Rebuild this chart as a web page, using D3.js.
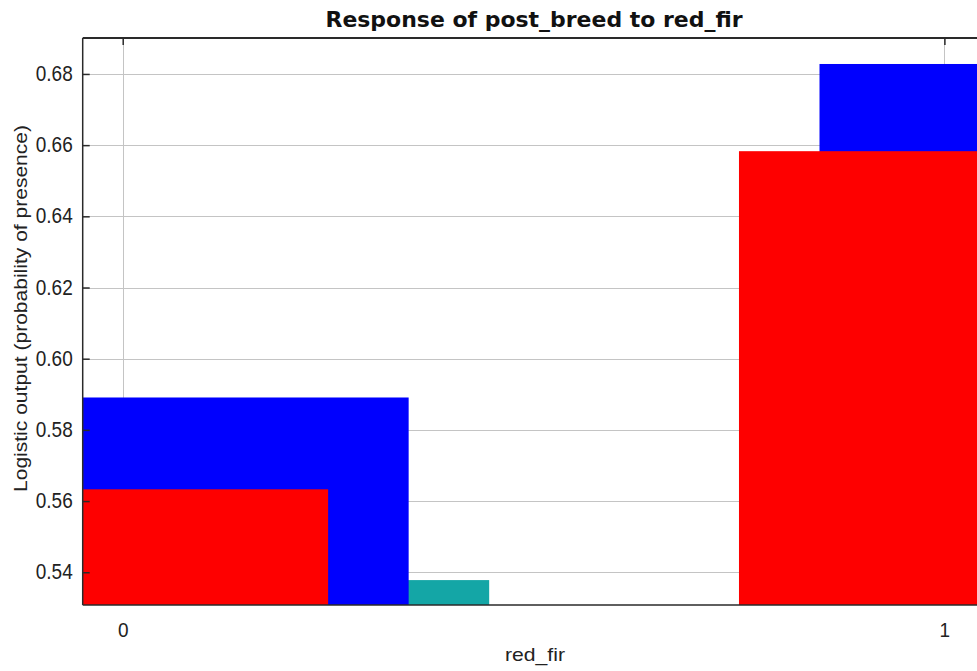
<!DOCTYPE html>
<html>
<head>
<meta charset="utf-8">
<script src="https://cdn.jsdelivr.net/npm/d3@7"></script>
<style>
  html, body { margin: 0; padding: 0; background: #fff; }
  svg { display: block; }
</style>
</head>
<body>
<svg id="chart" width="977" height="671"></svg>
<script>
// Categories of red_fir and the response values for each
const categories = [0, 1];
const responseValues = [0.5633, 0.6583];   // red: model response
const meanPlusSd = [0.5891, 0.6828];       // blue: mean + one std. dev.
const meanMinusSd = [0.5378, 0.6338];      // cyan: mean - one std. dev.
const yTickValues = [0.54, 0.56, 0.58, 0.60, 0.62, 0.64, 0.66, 0.68];
const xTickValues = [0, 1];

const titleText = "Response of post_breed to red_fir";
const xLabelText = "red_fir";
const yLabelText = "Logistic output (probability of presence)";

const svg = d3.select("#chart");
const plotLeft = 82.7, plotRight = 986.5, plotTop = 38, plotBottom = 605;

const x = d3.scaleLinear().domain([0, 1]).range([122.7, 944.4]);
const y = d3.scaleLinear().domain([0.5308, 0.6901]).range([plotBottom, plotTop]);

const halfWidth = 0.25;   // half width of each bar
const step = 0.098;       // shift between the three series of a category

const font = "'Liberation Sans', Arial, sans-serif";
const textColor = "#222";
const axisColor = "#2a2a2a";

svg.append("defs").append("clipPath").attr("id", "plotClip")
  .append("rect").attr("x", plotLeft).attr("y", plotTop)
  .attr("width", plotRight - plotLeft).attr("height", plotBottom - plotTop);

const plot = svg.append("g").attr("clip-path", "url(#plotClip)");

// grid lines
plot.append("g").selectAll("line").data(yTickValues).join("line")
  .attr("x1", plotLeft).attr("x2", plotRight)
  .attr("y1", d => Math.round(y(d)) + 0.5).attr("y2", d => Math.round(y(d)) + 0.5)
  .attr("stroke", "#c4c4c4").attr("stroke-width", 1);
plot.append("g").selectAll("line").data(xTickValues).join("line")
  .attr("y1", plotTop).attr("y2", plotBottom)
  .attr("x1", d => Math.round(x(d)) + 0.5).attr("x2", d => Math.round(x(d)) + 0.5)
  .attr("stroke", "#c4c4c4").attr("stroke-width", 1);

// bars: each series is shifted to the right of the one before it
function barSeries(values, offset, color) {
  plot.append("g").selectAll("rect").data(categories).join("rect")
    .attr("x", c => x(c - halfWidth + offset))
    .attr("width", c => x(c + halfWidth + offset) - x(c - halfWidth + offset))
    .attr("y", (c, i) => y(values[i]))
    .attr("height", (c, i) => y.range()[0] - y(values[i]))
    .attr("fill", color);
}
barSeries(meanMinusSd, 2 * step, "#14a6a6");
barSeries(meanPlusSd, step, "#0000fe");
barSeries(responseValues, 0, "#fe0000");

// frame
svg.append("line").attr("x1", plotLeft).attr("x2", 977)
  .attr("y1", plotTop).attr("y2", plotTop)
  .attr("stroke", axisColor).attr("stroke-width", 2);
svg.append("line").attr("x1", plotLeft).attr("x2", 977)
  .attr("y1", plotBottom).attr("y2", plotBottom)
  .attr("stroke", axisColor).attr("stroke-width", 1.5);
svg.append("line").attr("x1", plotLeft).attr("x2", plotLeft)
  .attr("y1", plotTop).attr("y2", plotBottom)
  .attr("stroke", axisColor).attr("stroke-width", 1.5);

// left axis: inward ticks and labels
const yAxis = d3.axisLeft(y).tickValues(yTickValues).tickFormat(d3.format(".2f"))
  .tickSizeInner(-7).tickSizeOuter(0).tickPadding(10);
const gy = svg.append("g").attr("transform", `translate(${plotLeft},0)`).call(yAxis);
gy.select(".domain").remove();
gy.selectAll(".tick line").attr("stroke", axisColor).attr("stroke-width", 1.5);
gy.selectAll(".tick text")
  .attr("fill", textColor).style("font-family", font).style("font-size", "19px")
  .attr("dy", null)
  .attr("transform", "translate(0,6.6) scale(1,1.15)");

// top ticks pointing down into the plot
const xTop = d3.axisTop(x).tickValues(xTickValues).tickSizeInner(-7).tickSizeOuter(0).tickFormat("");
const gxTop = svg.append("g").attr("transform", `translate(0,${plotTop})`).call(xTop);
gxTop.select(".domain").remove();
gxTop.selectAll(".tick line").attr("stroke", axisColor).attr("stroke-width", 1.5);

// bottom tick labels
const xAxis = d3.axisBottom(x).tickValues(xTickValues).tickFormat(d3.format("d"))
  .tickSize(0).tickPadding(0);
const gx = svg.append("g").attr("transform", `translate(0,${plotBottom})`).call(xAxis);
gx.select(".domain").remove();
gx.selectAll(".tick text")
  .attr("fill", textColor).style("font-family", font).style("font-size", "19px")
  .attr("dy", null).attr("y", 0)
  .attr("transform", "translate(0,32) scale(1,1.1)");

// title
svg.append("text").attr("x", 534).attr("y", 27).attr("text-anchor", "middle")
  .style("font-family", "'DejaVu Sans', sans-serif").style("font-weight", "bold")
  .style("font-size", "21px").attr("fill", "#111")
  .attr("textLength", 417).attr("lengthAdjust", "spacingAndGlyphs")
  .text(titleText);

// axis titles
svg.append("text").attr("x", 535).attr("y", 661).attr("text-anchor", "middle")
  .style("font-family", font).style("font-size", "19px")
  .attr("textLength", 60).attr("lengthAdjust", "spacingAndGlyphs")
  .attr("fill", textColor).text(xLabelText);

svg.append("text").attr("transform", "translate(27,308.5) rotate(-90)")
  .attr("text-anchor", "middle")
  .style("font-family", font).style("font-size", "18px")
  .attr("textLength", 367).attr("lengthAdjust", "spacingAndGlyphs")
  .attr("fill", textColor).text(yLabelText);
</script>
</body>
</html>
